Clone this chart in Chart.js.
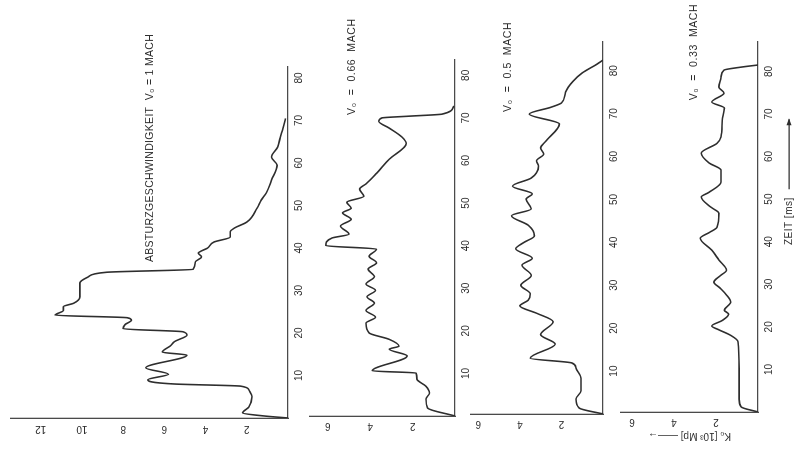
<!DOCTYPE html>
<html>
<head>
<meta charset="utf-8">
<script src="https://cdn.jsdelivr.net/npm/chart.js@4.4.1/dist/chart.umd.min.js"></script>
<style>
  html, body { margin: 0; padding: 0; background: #fff; }
  body { width: 801px; height: 460px; overflow: hidden; position: relative; }
  /* the sheet is drawn upright (460 x 801) and turned a quarter to the left */
  #sheet { position: absolute; left: 0; top: 0; width: 460px; height: 801px;
           transform-origin: 0 0; transform: translate(0, 460px) rotate(-90deg); }
  #sheet canvas { position: absolute; left: 0; top: 0; }
</style>
</head>
<body>
<div id="sheet">
  <canvas id="p1" width="460" height="801"></canvas>
  <canvas id="p2" width="460" height="801"></canvas>
  <canvas id="p3" width="460" height="801"></canvas>
  <canvas id="p4" width="460" height="801"></canvas>
</div>
<script>
// ---- Daten (Zeit in ms, Kraft in 10^3 Mp) ----
// V0 = 1 Mach
const time1  = [0, 0.5, 1.2, 2.6, 5, 6.6, 7.5, 8.0, 9.0, 10.3, 11.8, 14.8, 15.5, 17.0, 18.0, 19.5, 20.3, 21.0, 22.0, 23.0, 23.6, 24.2, 25.3, 26.2, 27.0, 28.5, 29.7, 31.8, 33.2, 34.3, 35.0, 36.7, 37.9, 38.8, 40.0, 41.4, 42.6, 43.8, 44.7, 46.1, 49.4, 51.3, 53.0, 56.0, 59.5, 61.4, 63.8, 66.0, 68.2, 70.5];
const force1 = [0, 1.2, 2.2, 1.9, 1.75, 1.9, 2.3, 5.5, 6.8, 5.8, 6.9, 4.9, 6.1, 5.7, 5.5, 4.9, 5.1, 8.0, 7.9, 7.6, 7.8, 11.3, 10.9, 10.9, 10.4, 10.1, 10.1, 10.1, 9.7, 8.8, 4.6, 4.5, 4.2, 4.35, 3.9, 3.6, 2.8, 2.8, 2.6, 2.0, 1.5, 1.3, 1.05, 0.8, 0.53, 0.8, 0.5, 0.38, 0.24, 0.12];
// V0 = 0.66 Mach
const time2  = [0, 1.9, 4, 5.4, 7, 8.7, 10.1, 10.6, 14.1, 15.7, 16.4, 18, 19.5, 21.8, 23.2, 24.8, 26.5, 28, 29.5, 31, 32.7, 34.5, 36, 37.5, 39.2, 40, 41.8, 42.7, 44.6, 46.2, 47.7, 48.8, 50.2, 51.6, 53.3, 54.5, 57, 60.3, 64, 65.5, 67.6, 69.2, 70.0, 70.4, 70.9, 72.8];
const force2 = [0, 1.3, 1.37, 1.2, 1.37, 1.8, 1.84, 3.9, 2.26, 3.1, 2.64, 3.1, 4.05, 4.2, 3.75, 4.2, 3.8, 4.15, 3.75, 4.2, 3.8, 4.1, 3.7, 4.05, 3.7, 6.1, 5.8, 5.0, 5.4, 4.9, 5.3, 4.9, 5.1, 4.3, 4.5, 4.2, 3.7, 3.1, 2.3, 2.5, 3.1, 3.6, 3.45, 2.2, 0.6, 0.05];
// V0 = 0.5 Mach
const time3  = [0, 1.4, 3.5, 5.4, 8.3, 10.7, 11.9, 13.0, 16.3, 18.5, 21.5, 23.5, 25.2, 26.5, 28.0, 30.0, 32.3, 34.7, 36.3, 38.5, 40.0, 41.5, 44.0, 46.2, 47.8, 50.1, 51.3, 53.1, 55.0, 57.8, 59.0, 60.6, 62.0, 63.6, 67.6, 69.9, 71.5, 72.5, 75.0, 77.5, 79.5, 81.5, 82.5];
const force3 = [0, 1.15, 1.3, 1.06, 1.06, 1.3, 1.5, 3.5, 2.3, 3.0, 2.4, 3.2, 4.0, 3.6, 3.5, 3.95, 3.45, 3.9, 3.4, 4.2, 3.8, 3.3, 3.6, 4.4, 3.45, 3.7, 3.4, 4.35, 3.45, 3.1, 3.2, 2.85, 3.0, 2.75, 2.1, 3.55, 2.5, 2.0, 1.8, 1.45, 1.0, 0.3, 0];
// V0 = 0.33 Mach
const time4  = [0, 1.2, 3, 10, 16.5, 18, 19.3, 20.2, 21.5, 23, 23.9, 25.8, 27.5, 29.1, 30.5, 32, 33.3, 35.7, 38, 40.8, 42.2, 43.4, 46.7, 48.1, 50.5, 51.6, 54, 56.8, 58.5, 60.8, 63.1, 64.6, 68.5, 71.4, 72.8, 74.9, 76.3, 78.6, 80.3, 81, 81.5];
const force4 = [0, 0.8, 0.9, 0.9, 0.95, 1.3, 1.86, 2.2, 1.7, 1.4, 1.6, 1.3, 1.5, 1.8, 2.1, 1.8, 1.5, 1.86, 2.2, 2.75, 2.3, 1.95, 1.86, 2.24, 2.7, 2.33, 1.76, 1.76, 2.33, 2.7, 1.95, 1.76, 1.7, 1.6, 2.2, 1.62, 1.86, 1.76, 1.62, 0.8, 0];

const timeTicks  = [10, 20, 30, 40, 50, 60, 70, 80];
const forceTicks1 = [2, 4, 6, 8, 10, 12];
const forceTicks  = [2, 4, 6];

const titles = ['ABSTURZGESCHWINDIGKEIT  V₀ = 1 MACH', 'V₀  =  0.66  MACH', 'V₀  =  0.5  MACH', 'V₀  =  0.33  MACH'];
const timeLabel  = 'ZEIT [ms]';
const forceLabel = 'K₀ [10³ Mp] ——→';

// ---- Aussehen ----
const INK = '#2e2e2e', AXIS = '#4a4a4a';
const FONT = "'Liberation Sans', 'DejaVu Sans', Arial, sans-serif";
const W = 460, H = 801, Y_W = 40, X_H = 30;
Chart.defaults.font.family = FONT;

// Beschriftungen im Diagramm (Titel, Zeitachse)
const panelText = {
  id: 'panelText',
  afterDraw(chart, args, opts) {
    const { ctx, scales: { x, y } } = chart;
    ctx.save();
    ctx.fillStyle = INK; ctx.strokeStyle = INK;
    ctx.textAlign = 'left'; ctx.textBaseline = 'middle';
    (opts.items || []).forEach(it => {
      ctx.font = it.font;
      ctx.letterSpacing = (it.spacing || 0) + 'px';
      const px = x.getPixelForValue(it.at[0]), py = y.getPixelForValue(it.at[1]);
      ctx.fillText(it.text, px, py);
      if (it.arrow) {
        const a = px + ctx.measureText(it.text).width + 8, b = a + it.arrow;
        ctx.lineWidth = 1.1;
        ctx.beginPath(); ctx.moveTo(a, py); ctx.lineTo(b, py); ctx.stroke();
        ctx.beginPath(); ctx.moveTo(b + 1, py); ctx.lineTo(b - 6, py - 2.5); ctx.lineTo(b - 6, py + 2.5); ctx.closePath(); ctx.fill();
      }
    });
    ctx.restore();
  }
};

const panels = [
  { id: 'p1', t: time1, f: force1, fTicks: forceTicks1, area: { left: 42, right: 393, top: 8, bottom: 288 },
    tMax: 82.6, fMax: 13.44, yPad: 5,
    text: [{ text: titles[0], at: [36.7, 6.7], font: '10.5px ' + FONT, spacing: 0.3 }] },
  { id: 'p2', t: time2, f: force2, fTicks: forceTicks, area: { left: 44, right: 400, top: 310, bottom: 455 },
    tMax: 83.6, fMax: 6.84, yPad: 7,
    text: [{ text: titles[1], at: [70.7, 4.86], font: '10.5px ' + FONT, spacing: 0.6 }] },
  { id: 'p3', t: time3, f: force3, fTicks: forceTicks, area: { left: 46, right: 418, top: 471, bottom: 603 },
    tMax: 86.7, fMax: 6.35, yPad: 7,
    text: [{ text: titles[2], at: [70.4, 4.57], font: '10.5px ' + FONT, spacing: 0.6 }] },
  { id: 'p4', t: time4, f: force4, fTicks: forceTicks, area: { left: 48, right: 418, top: 621, bottom: 758 },
    tMax: 86.9, fMax: 6.52, yPad: 7, yTitle: true,
    text: [{ text: titles[3], at: [73.2, 3.05], font: '10.5px ' + FONT, spacing: 0.6 },
           { text: timeLabel, at: [39.2, -1.48], font: '10px ' + FONT, spacing: 0.5, arrow: 70 }] }
];

function makePanel(p) {
  const points = p.t.map((t, i) => ({ x: t, y: p.f[i] }));
  return new Chart(document.getElementById(p.id), {
    type: 'line',
    data: { datasets: [{ data: points, borderColor: INK, borderWidth: 1.6, pointRadius: 0,
                         cubicInterpolationMode: 'monotone', fill: false }] },
    options: {
      responsive: false, animation: false, events: [],
      layout: { padding: { left: p.area.left - Y_W, right: W - p.area.right,
                           top: p.area.top, bottom: H - p.area.bottom - X_H } },
      plugins: { legend: { display: false }, tooltip: { enabled: false },
                 panelText: { items: p.text } },
      scales: {
        x: {
          type: 'linear', position: 'bottom', min: 0, max: p.tMax,
          grid: { display: false, drawTicks: false },
          border: { color: AXIS, width: 1.3 },
          afterBuildTicks: s => { s.ticks = timeTicks.map(v => ({ value: v })); },
          afterFit: s => { s.height = X_H; },
          ticks: { color: INK, font: { size: 10 }, padding: 5, autoSkip: false, minRotation: 0, maxRotation: 0 }
        },
        y: {
          type: 'linear', position: 'left', min: 0, max: p.fMax,
          grid: { display: false, drawTicks: false },
          border: { color: AXIS, width: 1.3 },
          afterBuildTicks: s => { s.ticks = p.fTicks.map(v => ({ value: v })); },
          afterFit: s => { s.width = Y_W; },
          ticks: { color: INK, font: { size: 10 }, padding: p.yPad, autoSkip: false,
                   minRotation: 90, maxRotation: 90, crossAlign: 'center' },
          title: { display: !!p.yTitle, text: forceLabel, color: INK, font: { size: 10 },
                   padding: { top: 10, bottom: 0 } }
        }
      }
    },
    plugins: [panelText]
  });
}

panels.forEach(makePanel);
</script>
</body>
</html>
